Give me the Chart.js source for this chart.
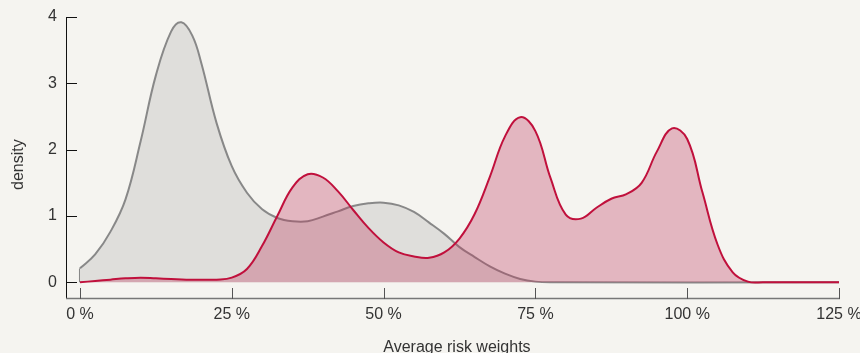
<!DOCTYPE html>
<html>
<head>
<meta charset="utf-8">
<script src="https://cdn.jsdelivr.net/npm/chart.js@4"></script>
<style>
  html, body { margin:0; padding:0; background:#f5f4f0; }
  #wrap { width:860px; height:353px; position:relative; }
</style>
</head>
<body>
<div id="wrap"><canvas id="chart"></canvas></div>
<script>
// density curves (x in %, y = density)
const redX  = [0, 2.5, 5, 7.5, 10, 12.5, 15, 17.5, 20, 22.5, 25, 27.5, 30, 32.5, 35, 37.5, 40, 42.5, 45, 47.5, 50, 52.5, 55, 57.5, 60, 62.5, 65, 67.5, 70, 72.5, 75, 77.5, 80, 82.5, 85, 87.5, 90, 92.5, 95, 97.5, 100, 102.5, 105, 107.5, 110, 112.5, 125];
const redY  = [0, 0.02, 0.04, 0.06, 0.07, 0.06, 0.05, 0.04, 0.04, 0.04, 0.07, 0.2, 0.55, 1.0, 1.43, 1.63, 1.58, 1.37, 1.09, 0.82, 0.6, 0.45, 0.39, 0.37, 0.45, 0.66, 1.03, 1.59, 2.2, 2.49, 2.28, 1.57, 1.02, 0.96, 1.12, 1.26, 1.33, 1.5, 1.97, 2.32, 2.16, 1.36, 0.57, 0.15, 0.01, 0, 0];
const grayX = [0, 2.5, 5, 7.5, 10, 12.5, 15, 16.7, 18.5, 20, 22.5, 25, 27.5, 30, 32.5, 35, 37.5, 40, 42.5, 45, 47.5, 50, 52.5, 55, 57.5, 60, 62.5, 65, 67.5, 70, 72.5, 75, 77.5, 125];
const grayY = [0.21, 0.42, 0.76, 1.25, 2.13, 3.12, 3.78, 3.92, 3.72, 3.3, 2.4, 1.75, 1.35, 1.1, 0.97, 0.92, 0.92, 0.99, 1.07, 1.15, 1.19, 1.2, 1.16, 1.06, 0.9, 0.73, 0.53, 0.38, 0.24, 0.13, 0.05, 0.01, 0, 0];
const xTicks = [0, 25, 50, 75, 100, 125];
const yTicks = [0, 1, 2, 3, 4];

const pts = (xs, ys) => xs.map((x, i) => ({x: x, y: ys[i]}));
const FONT = '"Liberation Sans", Arial, sans-serif';

// axes drawn by hand: ticks point inward, like the original
const axesPlugin = {
  id: 'axes',
  afterDraw(chart){
    const ctx = chart.ctx, xs = chart.scales.x, ys = chart.scales.y;
    const left = chart.chartArea.left, bottom = chart.chartArea.bottom;
    ctx.save();
    ctx.lineWidth = 1;
    ctx.strokeStyle = '#111';
    ctx.beginPath();
    ctx.moveTo(left + 0.5, ys.getPixelForValue(yTicks[yTicks.length-1]));
    ctx.lineTo(left + 0.5, bottom);
    yTicks.forEach(v => {
      const y = Math.round(ys.getPixelForValue(v)) + 0.5;
      ctx.moveTo(left, y); ctx.lineTo(left + 11, y);
    });
    ctx.stroke();
    ctx.strokeStyle = '#777';
    ctx.lineWidth = 1.5;
    ctx.beginPath();
    ctx.moveTo(left, bottom - 0.5);
    ctx.lineTo(xs.getPixelForValue(xTicks[xTicks.length-1]) + 1, bottom - 0.5);
    ctx.stroke();
    ctx.strokeStyle = '#555';
    ctx.lineWidth = 1;
    ctx.beginPath();
    xTicks.forEach(v => {
      const x = Math.round(xs.getPixelForValue(v)) + 0.5;
      ctx.moveTo(x, bottom); ctx.lineTo(x, bottom - 11);
    });
    ctx.stroke();
    ctx.restore();
  }
};

new Chart(document.getElementById('chart'), {
  type: 'line',
  data: {
    datasets: [
      { data: pts(redX, redY), borderColor:'#c0103c', borderWidth:2, backgroundColor:'rgba(189,53,90,0.32)', fill:'origin', pointRadius:0, tension:0.4 },
      { data: pts(grayX, grayY), borderColor:'#888', borderWidth:2, backgroundColor:'#dfdedb', fill:'origin', pointRadius:0, tension:0.4 },
      // left edge of the grey density (vertical step at 0 %)
      { data: [{x:grayX[0], y:0}, {x:grayX[0], y:grayY[0]}], borderColor:'#888', borderWidth:2, fill:false, pointRadius:0, tension:0 }
    ]
  },
  options: {
    responsive:true, maintainAspectRatio:false, animation:false,
    layout:{ padding:{ top:17, right:21, left:0, bottom:0 } },
    plugins:{ legend:{display:false}, tooltip:{enabled:false} },
    scales:{
      x:{
        type:'linear', min:-2.3, max:125,
        grid:{display:false, drawTicks:false}, border:{display:false},
        afterBuildTicks: s => { s.ticks = xTicks.map(v => ({value:v})); },
        afterFit: s => { s.height = 54; s.paddingLeft = 0; s.paddingRight = 0; },
        ticks:{ padding:6, color:'#333', font:{family:FONT, size:16}, maxRotation:0, callback: v => v + ' %' },
        title:{ display:true, text:'  Average risk weights', color:'#333', font:{family:FONT, size:16, lineHeight:1}, padding:{top:0, bottom:-3} }
      },
      y:{
        min:-0.252, max:4,
        grid:{display:false, drawTicks:false}, border:{display:false},
        afterBuildTicks: s => { s.ticks = yTicks.map(v => ({value:v})); },
        afterFit: s => { s.width = 66; s.paddingTop = 0; s.paddingBottom = 0; },
        ticks:{ padding:9, color:'#333', font:{family:FONT, size:16} },
        title:{ display:true, text:'density   ', color:'#333', font:{family:FONT, size:16, lineHeight:1}, padding:{top:11, bottom:0} }
      }
    }
  },
  plugins:[axesPlugin]
});
</script>
</body>
</html>
